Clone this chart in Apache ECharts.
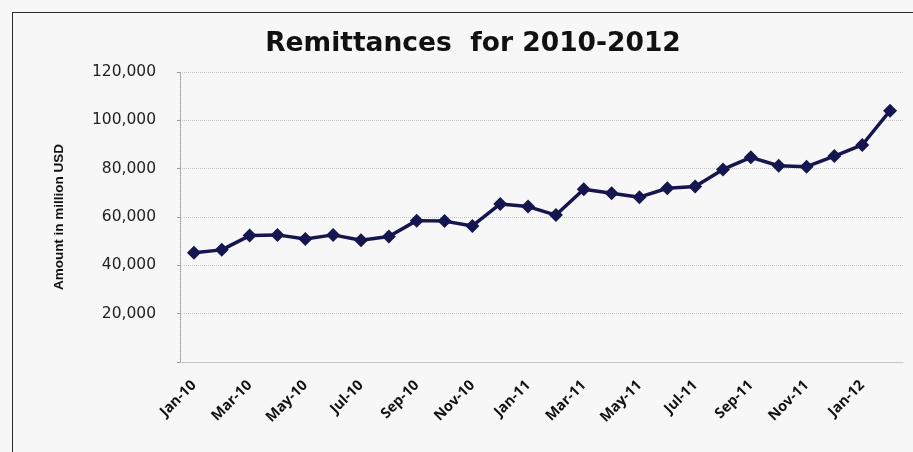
<!DOCTYPE html>
<html>
<head>
<meta charset="utf-8">
<script src="https://cdn.jsdelivr.net/npm/echarts@6/dist/echarts.min.js"></script>
<style>
  html, body { margin: 0; padding: 0; background: #f7f7f7; }
  #wrap { position: relative; width: 913px; height: 452px; }
  #frame { position: absolute; left: 12px; top: 12px; width: 920px; height: 460px;
           border: 1.5px solid #2a2a2a; box-sizing: border-box; }
  #chart { position: absolute; left: 0; top: 0; width: 913px; height: 452px; }
</style>
</head>
<body>
<div id="wrap">
  <div id="frame"></div>
  <div id="chart"></div>
</div>
<script>
// Monthly remittances, Jan 2010 – Feb 2012 (million USD)
const months = [
  'Jan-10','Feb-10','Mar-10','Apr-10','May-10','Jun-10','Jul-10','Aug-10','Sep-10','Oct-10','Nov-10','Dec-10',
  'Jan-11','Feb-11','Mar-11','Apr-11','May-11','Jun-11','Jul-11','Aug-11','Sep-11','Oct-11','Nov-11','Dec-11',
  'Jan-12','Feb-12'
];
const remittances = [
  45200, 46400, 52300, 52600, 50900, 52600, 50400, 51900, 58500, 58300, 56300, 65400,
  64300, 60800, 71500, 69800, 68200, 71900, 72600, 79700, 84700, 81200, 80800, 85200,
  89800, 104000
];
const yTicks = { min: 0, max: 120000, step: 20000 };

const chart = echarts.init(document.getElementById('chart'), null, { renderer: 'canvas' });
chart.setOption({
  backgroundColor: 'transparent',
  animation: false,
  title: {
    text: 'Remittances  for 2010-2012',
    left: 468, top: 26, textAlign: 'center',
    textStyle: { fontFamily: 'DejaVu Sans', fontWeight: 'bold', fontSize: 26.5, color: '#111' }
  },
  grid: { left: 180, right: 9, top: 72, bottom: 90 },
  xAxis: {
    type: 'category',
    data: months,
    boundaryGap: true,
    axisLine: { lineStyle: { color: '#bdbdbd', type: 'dotted', width: 1 } },
    axisTick: { show: false },
    axisLabel: {
      interval: 1, rotate: 45, margin: 21,
      fontFamily: 'Open Sans', fontWeight: 'bold', fontSize: 14.5, color: '#111'
    }
  },
  yAxis: {
    type: 'value',
    min: yTicks.min, max: yTicks.max, interval: yTicks.step,
    name: 'Amount in million USD',
    nameLocation: 'middle', nameGap: 114, nameRotate: 90,
    nameTextStyle: { fontFamily: 'Liberation Sans Narrow, Liberation Sans', fontWeight: 'bold', fontSize: 13.5, color: '#111' },
    axisLine: { show: true, lineStyle: { color: '#9a9a9a', type: 'dotted', width: 1 } },
    axisTick: { show: true, length: 3, lineStyle: { color: '#9a9a9a' } },
    axisLabel: {
      margin: 24,
      fontFamily: 'DejaVu Sans', fontSize: 15.5, color: '#222',
      formatter: v => v === 0 ? '' : v.toLocaleString('en-US')
    },
    splitLine: { lineStyle: { color: '#c8c8c8', type: 'dotted', width: 1 } }
  },
  series: [{
    type: 'line',
    data: remittances,
    symbol: 'diamond',
    symbolSize: 14,
    lineStyle: { color: '#15154f', width: 3.5 },
    itemStyle: { color: '#15154f' }
  }]
});
</script>
</body>
</html>
